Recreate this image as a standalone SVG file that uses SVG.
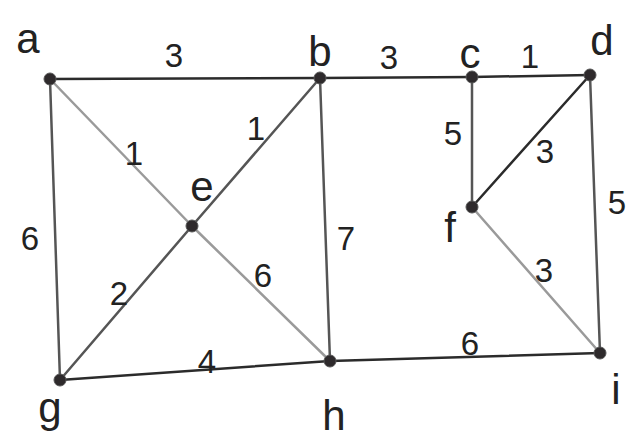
<svg xmlns="http://www.w3.org/2000/svg" width="629" height="444" viewBox="0 0 629 444">
<style>
.e{stroke-width:2.5;fill:none;stroke-linecap:round}
.dk{stroke:#2b2b2b}
.md{stroke:#555}
.lt{stroke:#9a9a9a}
.n{fill:#2e2a2c;stroke:#555;stroke-width:1}
.lab{font-family:"Liberation Sans",sans-serif;font-size:42px;fill:#222;text-anchor:middle}
.w{font-family:"Liberation Sans",sans-serif;font-size:33px;fill:#222;text-anchor:middle}
</style>
<rect width="629" height="444" fill="#fff"/>
<g id="connectors">
<line class="e dk" x1="50" y1="79" x2="320" y2="78"/>
<line class="e dk" x1="320" y1="78" x2="472" y2="77"/>
<line class="e dk" x1="472" y1="77" x2="590" y2="75"/>
<line class="e md" x1="50" y1="79" x2="60" y2="380"/>
<line class="e lt" x1="50" y1="79" x2="192" y2="226"/>
<line class="e md" x1="320" y1="78" x2="192" y2="226"/>
<line class="e md" x1="192" y1="226" x2="60" y2="380"/>
<line class="e lt" x1="192" y1="226" x2="330" y2="361"/>
<line class="e md" x1="320" y1="78" x2="330" y2="361"/>
<line class="e md" x1="472" y1="77" x2="472" y2="207"/>
<line class="e dk" x1="590" y1="75" x2="472" y2="207"/>
<line class="e lt" x1="472" y1="207" x2="600" y2="353"/>
<line class="e md" x1="590" y1="75" x2="600" y2="353"/>
<line class="e dk" x1="60" y1="380" x2="330" y2="361"/>
<line class="e dk" x1="330" y1="361" x2="600" y2="353"/>
<text class="w" x="174" y="67">3</text>
<text class="w" x="389" y="69">3</text>
<text class="w" x="530" y="68">1</text>
<text class="w" x="134" y="165">1</text>
<text class="w" x="256" y="140">1</text>
<text class="w" x="453" y="145">5</text>
<text class="w" x="545" y="163">3</text>
<text class="w" x="617" y="214">5</text>
<text class="w" x="30" y="250">6</text>
<text class="w" x="346" y="250">7</text>
<text class="w" x="119" y="305">2</text>
<text class="w" x="263" y="287">6</text>
<text class="w" x="207" y="373">4</text>
<text class="w" x="470" y="355">6</text>
<text class="w" x="544" y="282">3</text>
</g>
<g id="a"><circle class="n" cx="50" cy="79" r="6"/><text class="lab" x="28" y="53">a</text></g>
<g id="b"><circle class="n" cx="320" cy="78" r="6"/><text class="lab" x="320" y="66">b</text></g>
<g id="c"><circle class="n" cx="472" cy="77" r="6"/><text class="lab" x="470" y="68">c</text></g>
<g id="d"><circle class="n" cx="590" cy="75" r="6"/><text class="lab" x="602" y="55">d</text></g>
<g id="e"><circle class="n" cx="192" cy="226" r="6"/><text class="lab" x="202" y="201">e</text></g>
<g id="f"><circle class="n" cx="472" cy="207" r="6"/><text class="lab" x="450" y="242">f</text></g>
<g id="g"><circle class="n" cx="60" cy="380" r="6"/><text class="lab" x="50" y="422">g</text></g>
<g id="h"><circle class="n" cx="330" cy="361" r="6"/><text class="lab" x="334" y="430">h</text></g>
<g id="i"><circle class="n" cx="600" cy="353" r="6"/><text class="lab" x="616" y="404">i</text></g>
</svg>
